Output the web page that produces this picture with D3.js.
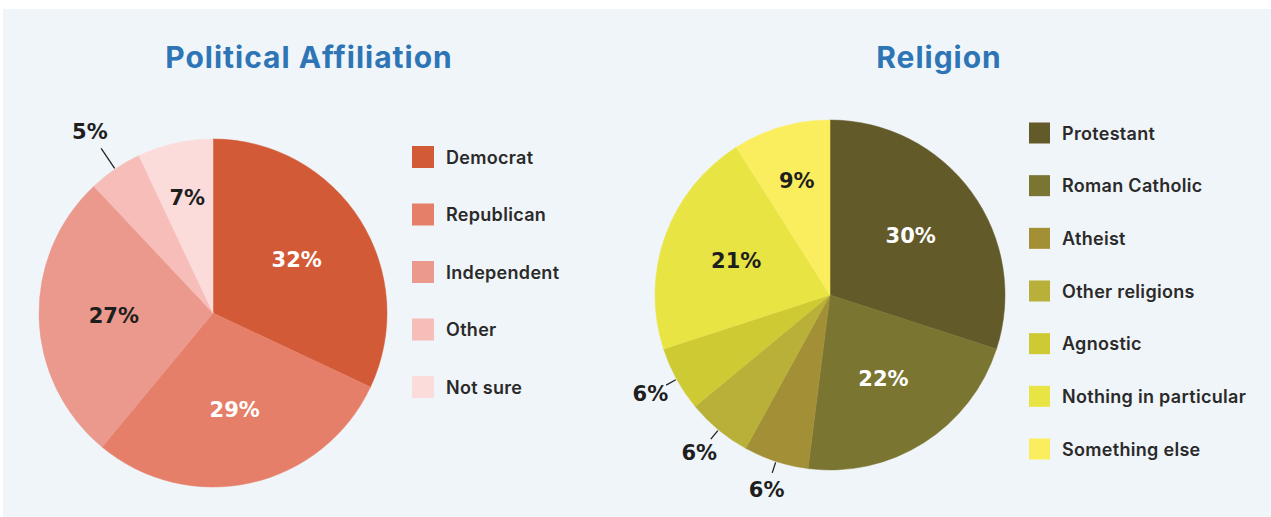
<!DOCTYPE html>
<html>
<head>
<meta charset="utf-8">
<script src="https://cdn.jsdelivr.net/npm/d3@7"></script>
<style>
  html, body { margin: 0; padding: 0; background: #ffffff; }
  svg { display: block; }
</style>
</head>
<body>
<svg id="chart" width="1271" height="517"></svg>
<script>
// Survey breakdowns drawn as two pies
const politicalCategories = ["Democrat", "Republican", "Independent", "Other", "Not sure"];
const politicalValues = [32, 29, 27, 5, 7];
const politicalColors = ["#d35a37", "#e67f69", "#ea998c", "#f7bdb8", "#fcdbdb"];

const religionCategories = ["Protestant", "Roman Catholic", "Atheist", "Other religions", "Agnostic", "Nothing in particular", "Something else"];
const religionValues = [30, 22, 6, 6, 6, 21, 9];
const religionColors = ["#625a29", "#7a7530", "#a38f36", "#b9b039", "#cdca34", "#e8e444", "#fbee5e"];

const svg = d3.select("#chart");

// light panel behind everything
svg.append("rect")
  .attr("x", 3).attr("y", 9)
  .attr("width", 1268).attr("height", 508)
  .attr("fill", "#f0f5f9");

function drawPie(cfg) {
  const g = svg.append("g");

  g.append("text")
    .attr("x", cfg.titleX).attr("y", 68)
    .attr("text-anchor", "middle")
    .attr("font-family", "Inter, 'Noto Sans', sans-serif")
    .attr("font-weight", 700)
    .attr("font-size", 30)
    .attr("letter-spacing", 1)
    .attr("fill", "#2e75b6")
    .text(cfg.title);

  const pie = d3.pie().sort(null).value(d => d.value);
  const arcs = pie(cfg.categories.map((c, i) => ({ name: c, value: cfg.values[i], color: cfg.colors[i] })));
  const arc = d3.arc().innerRadius(0).outerRadius(cfg.r);

  const pg = g.append("g").attr("transform", `translate(${cfg.cx},${cfg.cy})`);
  pg.selectAll("path.slice")
    .data(arcs)
    .join("path")
    .attr("class", "slice")
    .attr("d", arc)
    .attr("fill", d => d.data.color)
    .attr("stroke", d => d.data.color)
    .attr("stroke-width", 0.5);

  const pt = (a, rr) => [Math.sin(a) * rr, -Math.cos(a) * rr];

  arcs.forEach((d, i) => {
    const mid = (d.startAngle + d.endAngle) / 2;
    const outside = cfg.outside.includes(i);
    let pos;
    if (outside) {
      const p0 = pt(mid, cfg.r + 1);
      const p1 = pt(mid, cfg.r + cfg.leader);
      pg.append("line")
        .attr("x1", p0[0]).attr("y1", p0[1])
        .attr("x2", p1[0]).attr("y2", p1[1])
        .attr("stroke", "#222").attr("stroke-width", 1.3);
      pos = pt(mid, cfg.r + cfg.leader + cfg.textGap);
    } else {
      const rr = d.data.value < 10 ? cfg.r * 0.68 : cfg.r * 0.57;
      pos = pt(mid, rr);
    }
    pg.append("text")
      .attr("x", pos[0]).attr("y", pos[1])
      .attr("text-anchor", "middle")
      .attr("dominant-baseline", "central")
      .attr("font-family", "'DejaVu Sans', sans-serif")
      .attr("font-weight", 700)
      .attr("font-size", 21)
      .attr("fill", cfg.whiteLabels.includes(i) ? "#ffffff" : "#1e1e1e")
      .text(d.data.value + "%");
  });

  // legend
  const lg = g.append("g");
  const rowY = d3.scalePoint()
    .domain(cfg.categories)
    .range([cfg.legendTop, cfg.legendBottom]);
  const rows = lg.selectAll("g.row")
    .data(arcs)
    .join("g")
    .attr("class", "row")
    .attr("transform", d => `translate(${cfg.legendX},${rowY(d.data.name)})`);
  rows.append("rect")
    .attr("x", 0).attr("y", -cfg.sw / 2)
    .attr("width", cfg.sw).attr("height", cfg.sw)
    .attr("fill", d => d.data.color);
  rows.append("text")
    .attr("x", cfg.textX)
    .attr("y", 0)
    .attr("dominant-baseline", "central")
    .attr("font-family", "Inter, 'Noto Sans', sans-serif")
    .attr("font-weight", 600)
    .attr("font-size", 18)
    .attr("letter-spacing", 0.3)
    .attr("fill", "#2a2a2a")
    .text(d => d.data.name);
}

drawPie({
  title: "Political Affiliation", titleX: 309,
  categories: politicalCategories, values: politicalValues, colors: politicalColors,
  cx: 213, cy: 313, r: 174,
  outside: [3], leader: 25, textGap: 20,
  whiteLabels: [0, 1],
  legendX: 412, legendTop: 157, legendBottom: 387, sw: 22, textX: 34
});

drawPie({
  title: "Religion", titleX: 939,
  categories: religionCategories, values: religionValues, colors: religionColors,
  cx: 830, cy: 295, r: 175,
  outside: [2, 3, 4], leader: 12, textGap: 18,
  whiteLabels: [0, 1],
  legendX: 1029, legendTop: 133, legendBottom: 449, sw: 21, textX: 33
});
</script>
</body>
</html>
